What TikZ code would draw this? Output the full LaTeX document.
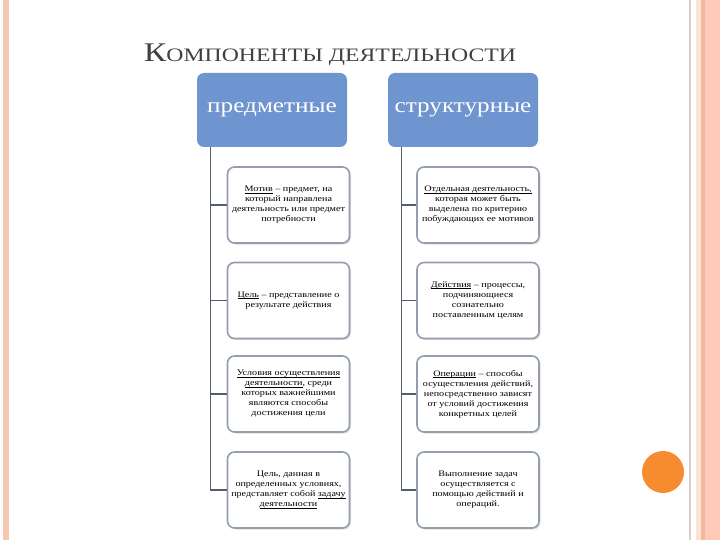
\documentclass[tikz,border=0pt]{standalone}
\usepackage{fontspec}
\setmainfont{Liberation Serif}
\newfontfamily\widefont{Liberation Serif}[FakeStretch=1.2]
\newfontfamily\titlefont{Liberation Serif}[FakeStretch=1.25]
\usetikzlibrary{shadows}

\definecolor{headblue}{RGB}{111,149,209}
\definecolor{boxline}{RGB}{148,158,172}
\definecolor{linkgray}{RGB}{84,94,108}
\definecolor{dotorange}{RGB}{246,139,47}
\definecolor{stripepink}{RGB}{245,200,178}
\definecolor{stripesalmon}{RGB}{255,203,184}
\definecolor{stripedark}{RGB}{243,184,160}
\definecolor{stripegray}{RGB}{216,206,198}
\definecolor{stripelight}{RGB}{251,227,214}
\definecolor{titlegray}{RGB}{64,64,64}

\newcommand{\ul}[1]{\setbox0\hbox{#1}\rlap{\rule[-1.3pt]{\wd0}{0.45pt}}\box0\relax}

\tikzset{
  headbox/.style={fill=headblue, rounded corners=7pt, minimum width=150pt,
    minimum height=74pt, text=white, font=\widefont\fontsize{21}{23}\selectfont},
  itembox/.style={draw=boxline, line width=1.6pt, fill=white, rounded corners=7pt,
    minimum width=122pt, minimum height=76pt, align=center, inner sep=1pt,
    font=\widefont\fontsize{8.4}{10}\selectfont,
    drop shadow={shadow xshift=1.5pt, shadow yshift=-1.5pt, opacity=0.25}},
  link/.style={draw=linkgray, line width=1.3pt}
}

\begin{document}
\begin{tikzpicture}[x=1pt, y=-1pt]
\useasboundingbox (0,0) rectangle (720,540);

% page frame
\fill[stripepink] (3,0) rectangle (9,540);
\fill[stripegray] (689,0) rectangle (691,540);
\fill[stripelight] (696,0) rectangle (701,540);
\fill[stripedark] (701,0) rectangle (705,540);
\fill[stripesalmon] (705,0) rectangle (720,540);
\fill[dotorange] (663,472) circle (21);

\node[anchor=base, text=titlegray, font=\titlefont] (title) at (330,62)
  {{\fontsize{27}{27}\selectfont К}{\fontsize{19}{19}\selectfont ОМПОНЕНТЫ ДЕЯТЕЛЬНОСТИ}};

\pgfmathsetmacro{\colA}{288.5}
\pgfmathsetmacro{\colB}{478}
\pgfmathsetmacro{\rowA}{205}
\pgfmathsetmacro{\rowB}{300.5}
\pgfmathsetmacro{\rowC}{394}
\pgfmathsetmacro{\rowD}{490}

\node[headbox] (subj) at (272,110) {предметные};
\node[headbox] (struct) at (463,110) {структурные};

\node[itembox] (subjA) at (\colA,\rowA)
  {\ul{Мотив} – предмет, на\\который направлена\\деятельность или предмет\\потребности};
\node[itembox] (subjB) at (\colA,\rowB)
  {\ul{Цель} – представление о\\результате действия};
\node[itembox] (subjC) at (\colA,\rowC)
  {\ul{Условия осуществления}\\\ul{деятельности}, среди\\которых важнейшими\\являются способы\\достижения цели};
\node[itembox] (subjD) at (\colA,\rowD)
  {Цель, данная в\\определенных условиях,\\представляет собой \ul{задачу}\\\ul{деятельности}};

\node[itembox] (structA) at (\colB,\rowA)
  {\ul{Отдельная деятельность,}\\которая может быть\\выделена по критерию\\побуждающих ее мотивов};
\node[itembox] (structB) at (\colB,\rowB)
  {\ul{Действия} – процессы,\\подчиняющиеся\\сознательно\\поставленным целям};
\node[itembox] (structC) at (\colB,\rowC)
  {\ul{Операции} – способы\\осуществления действий,\\непосредственно зависят\\от условий достижения\\конкретных целей};
\node[itembox] (structD) at (\colB,\rowD)
  {Выполнение задач\\осуществляется с\\помощью действий и\\операций.};

\coordinate (subjFoot) at ([xshift=14pt]subj.south west);
\coordinate (structFoot) at ([xshift=14pt]struct.south west);
\foreach \k in {A,B,C,D}{
  \draw[link] (subjFoot) |- (subj\k.west);
  \draw[link] (structFoot) |- (struct\k.west);
}
\end{tikzpicture}
\end{document}
